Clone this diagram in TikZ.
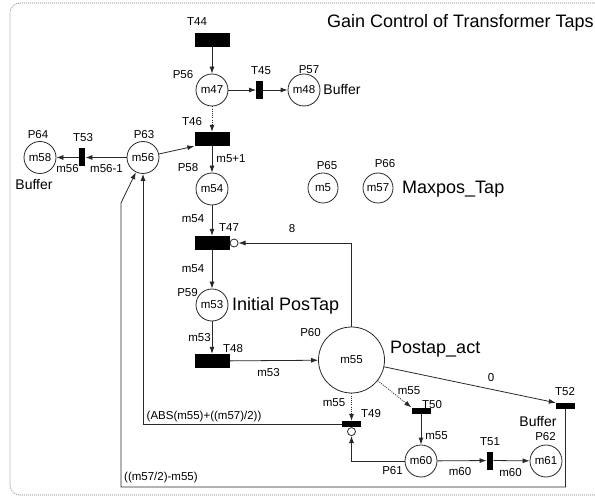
\documentclass[tikz,border=0pt]{standalone}
\usepackage{fontspec}
\setmainfont{Liberation Sans}
\usetikzlibrary{arrows.meta, positioning}
\definecolor{netgray}{RGB}{40, 40, 40}
\definecolor{framegray}{RGB}{120, 120, 120}
\tikzset{
  place/.style={circle, draw=netgray, line width=0.8pt, minimum size=32pt, inner sep=0pt, font=\fontsize{11.5}{13}\selectfont},
  smallplace/.style={place, minimum size=30pt},
  bigplace/.style={place, minimum size=66pt},
  trans/.style={fill=black, draw=none, inner sep=0pt},
  widetrans/.style={trans, minimum width=35pt, minimum height=14pt},
  bartrans/.style={trans, minimum width=6.5pt, minimum height=18pt},
  flattrans/.style={trans, minimum width=19pt, minimum height=6pt},
  inhib/.style={circle, draw=netgray, fill=white, line width=0.8pt, minimum size=8pt, inner sep=0pt},
  lbl/.style={inner sep=0pt, font=\fontsize{11.5}{13}\selectfont},
  buflbl/.style={inner sep=0pt, font=\fontsize{14}{16}\selectfont},
  biglbl/.style={inner sep=0pt, anchor=base west, font=\fontsize{18}{20}\selectfont},
  parc/.style={-{Latex[length=7pt,width=5pt]}, line width=0.8pt, draw=netgray},
  darc/.style={parc, dash pattern=on 1pt off 1.2pt},
}
\begin{document}
\begin{tikzpicture}[x=1pt, y=-1pt]
  \useasboundingbox (0,0) rectangle (595,497);
  \draw[framegray, line width=0.6pt, dash pattern=on 1pt off 1pt, rounded corners=10pt]
    (597,3) -- (10,3) -- (10,495) -- (597,495);
  \node[biglbl] (title) at (327,28) {Gain Control of Transformer Taps};

  \node[place] (P56) at (212,90) {m47};
  \node[place] (P57) at (304,90) {m48};
  \node[place] (P58) at (212,189) {m54};
  \node[place] (P59) at (212,305) {m53};
  \node[bigplace] (P60) at (351.5,360) {m55};
  \node[place] (P61) at (421,461) {m60};
  \node[place] (P62) at (546,461) {m61};
  \node[place] (P63) at (143,157.5) {m56};
  \node[place] (P64) at (40,157.5) {m58};
  \node[smallplace] (P65) at (323,188) {m5};
  \node[smallplace] (P66) at (378,188) {m57};

  \node[widetrans] (T44) at (212,40) {};
  \node[bartrans] (T45) at (259.5,90) {};
  \node[widetrans] (T46) at (212,139) {};
  \node[widetrans] (T47) at (212,243) {};
  \node[widetrans] (T48) at (212,361) {};
  \node[flattrans] (T49) at (351.5,424) {};
  \node[flattrans] (T50) at (421,410.5) {};
  \node[bartrans] (T51) at (490,460.5) {};
  \node[flattrans] (T52) at (565.5,406) {};
  \node[bartrans] (T53) at (82,157.5) {};
  \node[inhib, right=0pt of T47] (I47) {};
  \node[inhib, below=0pt of T49] (I49) {};

  \node[lbl] (lP56) at (183,75) {P56};
  \node[lbl] (lP57) at (309,70) {P57};
  \node[lbl] (lP58) at (188,168) {P58};
  \node[lbl] (lP59) at (187.5,293) {P59};
  \node[lbl] (lP60) at (310.5,333) {P60};
  \node[lbl] (lP61) at (392.5,470.5) {P61};
  \node[lbl] (lP62) at (545.5,437) {P62};
  \node[lbl] (lP63) at (144,135) {P63};
  \node[lbl] (lP64) at (38,135) {P64};
  \node[lbl] (lP65) at (327,166) {P65};
  \node[lbl] (lP66) at (385,164) {P66};

  \node[lbl] (lT44) at (197,22) {T44};
  \node[lbl] (lT45) at (261,71) {T45};
  \node[lbl] (lT46) at (192,122) {T46};
  \node[lbl] (lT47) at (229,228) {T47};
  \node[lbl] (lT48) at (233,349) {T48};
  \node[lbl] (lT49) at (371,414) {T49};
  \node[lbl] (lT50) at (432,405) {T50};
  \node[lbl] (lT51) at (490,442) {T51};
  \node[lbl] (lT52) at (565,392) {T52};
  \node[lbl] (lT53) at (83,137.5) {T53};

  \node[buflbl] (b64) at (34,185) {Buffer};
  \node[buflbl] (b57) at (342,89.5) {Buffer};
  \node[buflbl] (b62) at (538,422) {Buffer};
  \node[biglbl] (tapinit) at (232,311) {Initial PosTap};
  \node[biglbl] (tapact) at (390,354) {Postap\_act};
  \node[biglbl] (tapmax) at (402,194) {Maxpos\_Tap};

  \draw[parc] (T44) -- (P56);
  \draw[parc] (P56) -- (T45);
  \draw[parc] (T45) -- (P57);
  \draw[darc] (P56) -- (T46);
  \draw[parc] (P63) -- (T46.south west);
  \draw[parc] (P63) -- (T53);
  \draw[parc] (T53) -- (P64);
  \draw[parc] (T46) -- (P58);
  \draw[parc] (P58) -- (T47);
  \draw[parc] (T47) -- (P59);
  \draw[parc] (P59) -- (T48);
  \draw[parc] (T48) -- (P60);
  \draw[parc] (P60.north) |- (I47);
  \draw[darc] (P60) -- (T49);
  \draw[darc] (P60) -- (T50.north west);
  \draw[parc] (T50) -- (P61);
  \draw[parc] (P61) -- (T51);
  \draw[parc] (T51) -- (P62);
  \draw[parc] (P60) -- (T52.north west);
  \draw[parc] (P61) -| (I49);
  \draw[parc] (T49) -| (P63);
  \coordinate (c1) at (121,487);
  \coordinate (c2) at (121,203);
  \draw[parc] (T52) |- (c1) -- (c2) -- (P63);

  \node[lbl] (w1) at (67.5,169) {m56};
  \node[lbl] (w2) at (106.5,169) {m56-1};
  \node[lbl] (w3) at (231,159) {m5+1};
  \node[lbl] (w4) at (193,219) {m54};
  \node[lbl] (w5) at (292,228.5) {8};
  \node[lbl] (w6) at (193,269) {m54};
  \node[lbl] (w7) at (199.5,338) {m53};
  \node[lbl] (w8) at (268.5,373) {m53};
  \node[lbl, anchor=west] (w9) at (146.5,417) {(ABS(m55)+((m57)/2))};
  \node[lbl, anchor=west] (w10) at (124,478) {((m57/2)-m55)};
  \node[lbl] (w11) at (491,377.5) {0};
  \node[lbl] (w12) at (334,403) {m55};
  \node[lbl] (w13) at (409,391) {m55};
  \node[lbl] (w14) at (436.5,435.5) {m55};
  \node[lbl] (w15) at (460,471.5) {m60};
  \node[lbl] (w16) at (510.5,473) {m60};
\end{tikzpicture}
\end{document}
